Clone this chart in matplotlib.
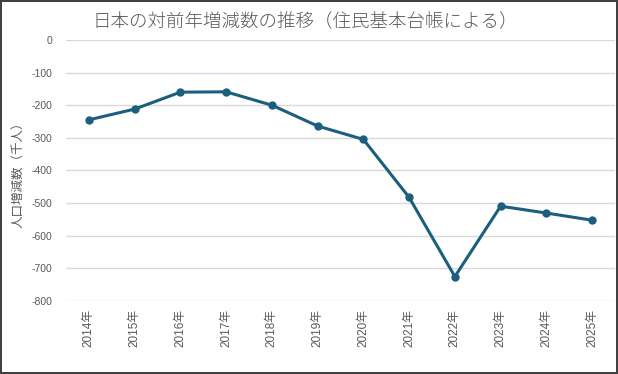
import matplotlib.pyplot as plt
import numpy as np

plt.rcParams['font.family'] = ['Noto Sans CJK JP', 'DejaVu Sans']
plt.rcParams['axes.unicode_minus'] = False

years = ["2014年", "2015年", "2016年", "2017年", "2018年", "2019年",
         "2020年", "2021年", "2022年", "2023年", "2024年", "2025年"]
change = [-245, -212, -160, -159, -200, -264, -305, -483, -726, -510, -531, -553]

line_color = "#1b5e7e"
text_color = "#595959"
tick_font = ['Liberation Sans', 'Noto Sans CJK JP']

fig = plt.figure(figsize=(6.18, 3.74), dpi=100, linewidth=1.5, edgecolor="#404040")
ax = fig.add_axes([66 / 618, 0.196, (615 - 66) / 618, 0.697])

x = np.arange(len(years))
ax.plot(x, change, color=line_color, linewidth=2.2, marker="o", markersize=5)

ax.set_xlim(-0.5, len(years) - 0.5)
ax.set_ylim(-800, 0)
ax.set_yticks(np.arange(-800, 1, 100))
ax.set_xticks(x)
ax.set_xticklabels(years, rotation=90)
ax.tick_params(axis="both", length=0, labelcolor=text_color)
ax.tick_params(axis="y", pad=10, labelsize=7.5)
ax.tick_params(axis="x", pad=6, labelsize=8.5)
for lab in ax.get_xticklabels() + ax.get_yticklabels():
    lab.set_family(tick_font)
ax.grid(axis="y", color="#d9d9d9", linewidth=1)
ax.set_axisbelow(True)
for s in ax.spines.values():
    s.set_visible(False)

fig.text(18 / 618, 1 - 172 / 374, "人口増減数（千人）", rotation=90,
         ha="center", va="center", fontsize=9, color=text_color)
fig.text(305 / 618, 1 - 22 / 374, "日本の対前年増減数の推移（住民基本台帳による）",
         ha="center", va="center", fontsize=13.3, color=text_color,
         fontweight="light")

fig.savefig("out.png", dpi=100)
